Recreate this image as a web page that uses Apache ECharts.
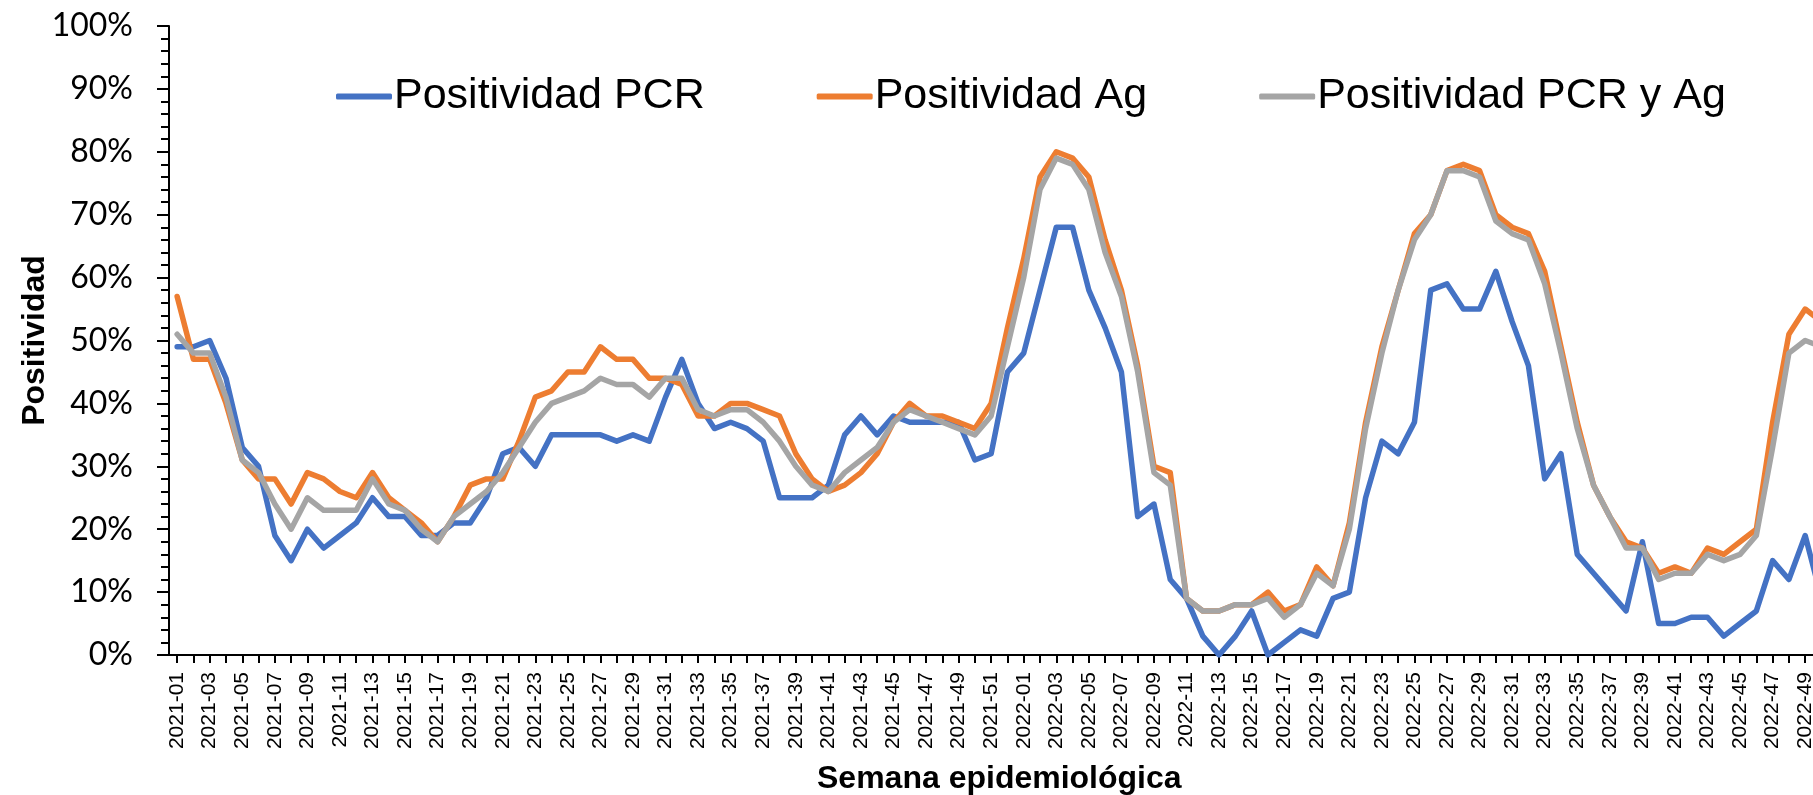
<!DOCTYPE html>
<html>
<head>
<meta charset="utf-8">
<script src="https://cdn.jsdelivr.net/npm/echarts@6/dist/echarts.min.js"></script>
<style>
  html, body { margin: 0; padding: 0; overflow: hidden; background: #fff; }
  #grafico { width: 1850px; height: 795px; }
</style>
</head>
<body>
<div id="grafico"></div>
<script>
// semanas epidemiologicas 2021-01 .. 2022-50
var semanas = [];
for (var s = 1; s <= 52; s++) semanas.push("2021-" + (s < 10 ? "0" + s : s));
for (var t = 1; t <= 50; t++) semanas.push("2022-" + (t < 10 ? "0" + t : t));

var positividadPCR = [
  49, 49, 50, 44, 33, 30, 19, 15, 20, 17,
  19, 21, 25, 22, 22, 19, 19, 21, 21, 25,
  32, 33, 30, 35, 35, 35, 35, 34, 35, 34,
  41, 47, 40, 36, 37, 36, 34, 25, 25, 25,
  27, 35, 38, 35, 38, 37, 37, 37, 37, 31,
  32, 45,
  48, 58, 68, 68, 58, 52, 45, 22, 24, 12,
  9, 3, 0, 3, 7, 0, 2, 4, 3, 9,
  10, 25, 34, 32, 37, 58, 59, 55, 55, 61,
  53, 46, 28, 32, 16, 13, 10, 7, 18, 5,
  5, 6, 6, 3, 5, 7, 15, 12, 19, 9
];

var positividadAg = [
  57, 47, 47, 40, 31, 28, 28, 24, 29, 28,
  26, 25, 29, 25, 23, 21, 18, 22, 27, 28,
  28, 34, 41, 42, 45, 45, 49, 47, 47, 44,
  44, 43, 38, 38, 40, 40, 39, 38, 32, 28,
  26, 27, 29, 32, 37, 40, 38, 38, 37, 36,
  40, 52,
  63, 76, 80, 79, 76, 66, 58, 46, 30, 29,
  9, 7, 7, 8, 8, 10, 7, 8, 14, 11,
  21, 37, 49, 58, 67, 70, 77, 78, 77, 70,
  68, 67, 61, 49, 37, 27, 22, 18, 17, 13,
  14, 13, 17, 16, 18, 20, 37, 51, 55, 53
];

var positividadPCRyAg = [
  51, 48, 48, 41, 31, 29, 24, 20, 25, 23,
  23, 23, 28, 24, 23, 20, 18, 22, 24, 26,
  29, 33, 37, 40, 41, 42, 44, 43, 43, 41,
  44, 44, 39, 38, 39, 39, 37, 34, 30, 27,
  26, 29, 31, 33, 37, 39, 38, 37, 36, 35,
  38, 49,
  60, 74, 79, 78, 74, 64, 57, 45, 29, 27,
  9, 7, 7, 8, 8, 9, 6, 8, 13, 11,
  20, 36, 48, 58, 66, 70, 77, 77, 76, 69,
  67, 66, 59, 48, 36, 27, 22, 17, 17, 12,
  13, 13, 16, 15, 16, 19, 33, 48, 50, 49
];

var chart = echarts.init(document.getElementById("grafico"));

function serie(nombre, datos, color) {
  return {
    name: nombre,
    type: "line",
    data: datos,
    symbol: "none",
    lineStyle: { color: color, width: 5.5, cap: "round", join: "round" },
    itemStyle: { color: color }
  };
}

var option = {
  animation: false,
  backgroundColor: "#fff",
  textStyle: { fontFamily: "Liberation Sans" },
  grid: {
    left: 169, top: 26, width: 1660.6, height: 629,
    containLabel: false, outerBoundsMode: "none"
  },
  legend: {
    left: 331, top: 70,
    icon: "roundRect",
    itemWidth: 56, itemHeight: 6, itemGap: 112,
    textStyle: { fontSize: 43, color: "#000", fontFamily: "Liberation Sans", padding: [0, 0, 0, -3] },
    data: ["Positividad PCR", "Positividad Ag", "Positividad PCR y Ag"]
  },
  xAxis: {
    type: "category",
    data: semanas,
    boundaryGap: true,
    name: "Semana epidemiológica",
    nameLocation: "middle",
    nameGap: 108,
    nameMoveOverlap: false,
    nameTextStyle: { fontSize: 32, fontWeight: "bold", color: "#000", fontFamily: "Liberation Sans" },
    axisLine: { lineStyle: { color: "#000", width: 2 } },
    axisTick: { show: true, interval: 0, alignWithLabel: true, length: 8, lineStyle: { color: "#000", width: 2 } },
    axisLabel: { interval: 1, rotate: 90, margin: 17, fontSize: 21, color: "#000", fontFamily: "Liberation Sans" },
    splitLine: { show: false }
  },
  yAxis: {
    type: "value",
    min: 0, max: 100, interval: 10,
    name: "Positividad",
    nameLocation: "middle",
    nameGap: 118,
    nameRotate: 90,
    nameMoveOverlap: false,
    nameTextStyle: { fontSize: 32, fontWeight: "bold", color: "#000", fontFamily: "Liberation Sans" },
    axisLine: { show: true, lineStyle: { color: "#000", width: 2 } },
    axisTick: { show: true, length: 12, lineStyle: { color: "#000", width: 2 } },
    minorTick: { show: true, splitNumber: 5, length: 8, lineStyle: { color: "#000", width: 2 } },
    axisLabel: { formatter: "{value}%", margin: 36, fontSize: 32, color: "#000", fontFamily: "Lato" },
    splitLine: { show: false }
  },
  series: [
    serie("Positividad PCR", positividadPCR, "#4472C4"),
    serie("Positividad Ag", positividadAg, "#ED7D31"),
    serie("Positividad PCR y Ag", positividadPCRyAg, "#A5A5A5")
  ]
};

chart.setOption(option);
</script>
</body>
</html>
